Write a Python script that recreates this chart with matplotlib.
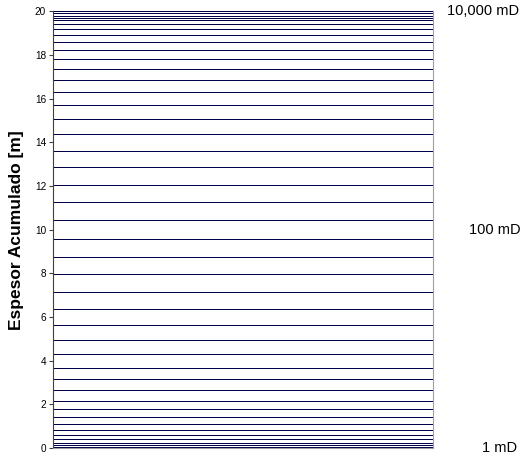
import matplotlib
matplotlib.use('Agg')
import matplotlib.pyplot as plt
import matplotlib.transforms as mtransforms

plt.rcParams['font.family'] = ['Liberation Sans', 'DejaVu Sans']

# cumulative thickness of each layer boundary [m]
espesor_acumulado = [20.0, 19.91, 19.80, 19.71, 19.59, 19.40, 19.17, 18.91, 18.58, 18.21,
                     17.80, 17.34, 16.84, 16.29, 15.69, 15.05, 14.37, 13.62, 12.87, 12.04,
                     11.25, 10.43, 9.56, 8.74, 7.96, 7.13, 6.35, 5.62, 4.93, 4.29,
                     3.68, 3.15, 2.64, 2.15, 1.77, 1.42, 1.10, 0.82, 0.60, 0.40,
                     0.24, 0.12, 0.05]
y_ticks = [0, 2, 4, 6, 8, 10, 12, 14, 16, 18, 20]
perm_labels = ['10,000 mD', '100 mD', '1 mD']
perm_y = [20, 10, 0]
perm_x = [1.037, 1.095, 1.129]

fig = plt.figure(figsize=(5.27, 4.59), dpi=100)
ax = fig.add_axes([53 / 527, 1 - 448 / 459, 380 / 527, (448 - 11.3) / 459])

# one horizontal line per layer boundary
ax.hlines(espesor_acumulado, 0, 1, colors='#000048', linewidth=0.72, antialiased=False)

ax.set_xlim(0, 1)
ax.set_ylim(0, 20)
ax.set_xticks([])
ax.set_yticks(y_ticks)
ax.tick_params(axis='y', length=3, width=0.8, color='#404040', labelsize=7.2, pad=2)
ax.set_ylabel('Espesor Acumulado [m]', fontsize=12.5, fontweight='bold', labelpad=8)

ax.spines['top'].set_visible(False)
ax.spines['left'].set_color('#404040')
ax.spines['right'].set_color('#a0a0a0')
ax.spines['bottom'].set_color('#a0a0a0')
for s in ax.spines.values():
    s.set_linewidth(0.8)

trans = mtransforms.blended_transform_factory(ax.transAxes, ax.transData)
for lab, yv, xv in zip(perm_labels, perm_y, perm_x):
    ax.text(xv, yv, lab, transform=trans, ha='left', va='center', fontsize=10.5,
            clip_on=False)

fig.savefig('out.png', dpi=100)
